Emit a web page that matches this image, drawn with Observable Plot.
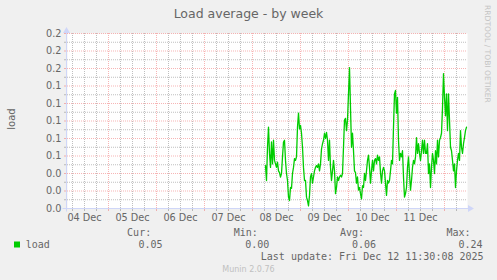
<!DOCTYPE html>
<html><head><meta charset="utf-8">
<script src="https://cdn.jsdelivr.net/npm/d3@7"></script>
<script src="https://cdn.jsdelivr.net/npm/@observablehq/plot@0.6"></script>
<style>
html,body{margin:0;padding:0;background:#f0f0f0;}
#chart{width:497px;height:280px;}
svg{display:block;}
</style></head><body><div id="chart"></div>
<script>
// ---- data ----
const title = "Load average - by week";
const yLabel = "load";
const seriesName = "load";
const seriesColor = "#00cc00";
const stepMinutes = 30;
const seriesStart = Date.UTC(2025, 11, 8, 6, 30);
const loadValues = [
  0.049,0.032,0.070,0.093,0.063,0.047,0.076,0.051,0.078,0.055,
  0.051,0.047,0.053,0.043,0.041,0.036,0.040,0.059,0.076,0.078,
  0.055,0.040,0.032,0.013,0.009,0.024,0.023,0.040,0.047,0.057,
  0.055,0.059,0.093,0.109,0.091,
  0.095,0.086,0.070,0.047,0.032,0.032,0.013,0.009,0.003,0.015,
  0.036,0.040,0.029,0.036,0.043,0.047,0.049,0.047,0.051,0.043,
  0.051,0.068,0.074,0.078,0.086,0.080,0.087,0.078,0.055,0.078,
  0.047,0.032,0.043,0.055,0.043,0.017,0.024,0.036,0.032,0.036,
  0.038,0.036,0.040,
  0.070,0.101,0.103,0.089,0.101,0.131,0.161,0.115,0.070,0.086,
  0.066,0.043,0.041,0.029,0.036,0.021,0.024,0.017,0.011,0.026,
  0.024,0.040,0.032,0.043,0.055,0.061,0.047,0.029,0.043,0.055,
  0.043,0.055,0.057,0.051,0.061,0.055,0.059,0.041,0.029,0.043,
  0.047,
  0.043,0.029,0.015,0.032,0.029,0.032,0.043,0.055,0.051,0.093,
  0.131,0.135,0.109,0.127,0.078,0.055,0.063,0.059,0.066,0.036,
  0.013,0.017,0.024,0.047,0.059,0.040,0.021,0.032,0.047,0.055,
  0.051,0.059,0.081,0.063,0.074,0.063,0.055,0.066,0.078,0.063,
  0.078,0.063,
  0.063,0.074,0.040,0.051,0.024,0.047,0.063,0.055,0.040,0.066,
  0.051,0.078,0.059,0.078,0.081,0.086,0.115,0.154,0.127,0.106,
  0.131,0.089,0.131,0.101,0.070,0.066,0.055,0.043,0.051,0.024,
  0.043,0.055,0.063,0.055,0.089,0.070,0.063,0.074,0.081,0.089,
  0.093
];
const xDomain = [Date.UTC(2025, 11, 4, 3, 30), Date.UTC(2025, 11, 12, 11, 30)];
const yDomain = [0, 0.2];
const yTicks = [0, 0.02, 0.04, 0.06, 0.08, 0.10, 0.12, 0.14, 0.16, 0.18, 0.20];
const yTickLabels = ["0.0","0.0","0.0","0.1","0.1","0.1","0.1","0.1","0.2","0.2","0.2"];
const yMinorTicks = [0.01, 0.03, 0.05, 0.07, 0.09, 0.11, 0.13, 0.15, 0.17, 0.19];
const dayLabels = ["04 Dec","05 Dec","06 Dec","07 Dec","08 Dec","09 Dec","10 Dec","11 Dec"];
const dayLabelDays = [4, 5, 6, 7, 8, 9, 10, 11];
const dayBoundaryDays = [5, 6, 7, 8, 9, 10, 11, 12];
const legendHeads = ["Cur:", "Min:", "Avg:", "Max:"];
const legendValues = ["0.05", "0.00", "0.06", "0.24"];
const lastUpdate = "Last update: Fri Dec 12 11:30:08 2025";
const footer = "Munin 2.0.76";
const watermark = "RRDTOOL / TOBI OETIKER";

// ---- build ----
const FONT = "#666666";
const GRID = "rgba(128,128,128,0.5)";
const MGRID = "rgba(240,120,120,0.55)";
const AXIS = "#CFD6F8";

const series = loadValues.map((v, i) => ({time: new Date(seriesStart + i * stepMinutes * 60000), value: v}));
const dayTicks = dayLabelDays.map((d, i) => ({time: new Date(Date.UTC(2025, 11, d, 12)), label: dayLabels[i]}));
const dayBounds = dayBoundaryDays.map(d => new Date(Date.UTC(2025, 11, d)));
const minorTimes = d3.utcHour.every(6).range(new Date(xDomain[0]), new Date(xDomain[1])).filter(d => d.getUTCHours() !== 0);
const yTickData = yTicks.map((v, i) => ({v, label: yTickLabels[i]}));

const chart = Plot.plot({
  width: 497, height: 280,
  marginLeft: 67, marginRight: 30, marginTop: 33, marginBottom: 72,
  style: {background: "#f0f0f0", fontFamily: "'DejaVu Sans', sans-serif", fontSize: "9.7px", color: FONT, overflow: "visible"},
  x: {type: "utc", domain: xDomain.map(d => new Date(d))},
  y: {domain: yDomain},
  marks: [
    Plot.frame({fill: "white", stroke: "none"}),
    Plot.ruleY(yMinorTicks, {stroke: GRID, strokeDasharray: "1,1"}),
    Plot.ruleX(minorTimes, {stroke: GRID, strokeDasharray: "1,1"}),
    Plot.ruleY(yTicks.slice(1), {stroke: MGRID, strokeDasharray: "1,1"}),
    Plot.ruleX(dayBounds, {stroke: MGRID, strokeDasharray: "1,1"}),
    Plot.axisY(yTicks, {tickSize: 3, tickFormat: () => "", stroke: MGRID, label: null}),
    Plot.axisY(yMinorTicks, {tickSize: 3, tickFormat: () => "", stroke: GRID, label: null}),
    Plot.axisX(dayBounds, {tickSize: 3, tickFormat: () => "", stroke: MGRID, label: null}),
    Plot.axisX(minorTimes, {tickSize: 3, tickFormat: () => "", stroke: GRID, label: null}),
    Plot.text(yTickData, {y: "v", text: "label", frameAnchor: "left", textAnchor: "end", dx: -6, fill: FONT, fontSize: 9.7}),
    Plot.text(dayTicks, {x: "time", text: "label", frameAnchor: "bottom", lineAnchor: "middle", dy: 9, fill: FONT, fontSize: 9.7}),
    Plot.line(series, {x: "time", y: "value", stroke: seriesColor, strokeWidth: 1.3})
  ]
});
document.getElementById("chart").appendChild(chart);

const svg = d3.select(chart);
const xs = chart.scale("x"), ys = chart.scale("y");
const x0 = Math.round(xs.apply(new Date(xDomain[0]))) - 0.5;
const x1 = Math.round(xs.apply(new Date(xDomain[1])));
const yb = Math.round(ys.apply(0)) + 0.5;
const yt = Math.round(ys.apply(0.2));
// axes with arrows
svg.append("line").attr("x1", x0 - 4).attr("x2", x1 + 4).attr("y1", yb).attr("y2", yb).attr("stroke", AXIS);
svg.append("line").attr("x1", x0).attr("x2", x0).attr("y1", yb + 3).attr("y2", yt - 4).attr("stroke", AXIS);
svg.append("path").attr("d", `M${x1 + 1},${yb - 3.5}L${x1 + 7},${yb}L${x1 + 1},${yb + 3.5}Z`).attr("fill", AXIS);
svg.append("path").attr("d", `M${x0 - 3.5},${yt}L${x0},${yt - 6}L${x0 + 3.5},${yt}Z`).attr("fill", AXIS);

const deco = svg.append("g").attr("text-anchor", "start");
// title
deco.append("text").text(title).attr("x", 248.5).attr("y", 17.5).attr("text-anchor", "middle")
  .attr("font-family", "DejaVu Sans").attr("font-size", 12.5).attr("fill", FONT);
// y label
deco.append("text").text(yLabel).attr("transform", "translate(15,119) rotate(-90)").attr("text-anchor", "middle")
  .attr("font-family", "DejaVu Sans").attr("font-size", 10).attr("fill", FONT);
// watermark
deco.append("text").text(watermark).attr("transform", "translate(485,5) rotate(90)").attr("text-anchor", "start")
  .attr("font-family", "DejaVu Sans").attr("font-size", 7.6).attr("fill", "#c4c4c4");
// legend
const mono = "'DejaVu Sans Mono', monospace";
const headX = [127.1, 233.8, 339.9, 446.4];
const valX = [138.5, 245.2, 351.9, 458.5];
legendHeads.forEach((h, i) => {
  deco.append("text").text(h).attr("x", headX[i]).attr("y", 236).attr("text-anchor", "start").attr("font-family", mono).attr("font-size", 10).attr("fill", FONT);
  deco.append("text").text(legendValues[i]).attr("x", valX[i]).attr("y", 248).attr("text-anchor", "start").attr("font-family", mono).attr("font-size", 10).attr("fill", FONT);
});
deco.append("rect").attr("x", 14).attr("y", 241.5).attr("width", 6).attr("height", 6).attr("fill", seriesColor);
deco.append("text").text(seriesName).attr("x", 25.8).attr("y", 248).attr("text-anchor", "start").attr("font-family", mono).attr("font-size", 10).attr("fill", FONT);
deco.append("text").text(lastUpdate).attr("x", 260.8).attr("y", 260).attr("text-anchor", "start").attr("font-family", mono).attr("font-size", 10).attr("fill", FONT);
deco.append("text").text(footer).attr("x", 248.5).attr("y", 272).attr("text-anchor", "middle")
  .attr("font-family", "DejaVu Sans").attr("font-size", 8).attr("fill", "#c0c0c0");
</script></body></html>
